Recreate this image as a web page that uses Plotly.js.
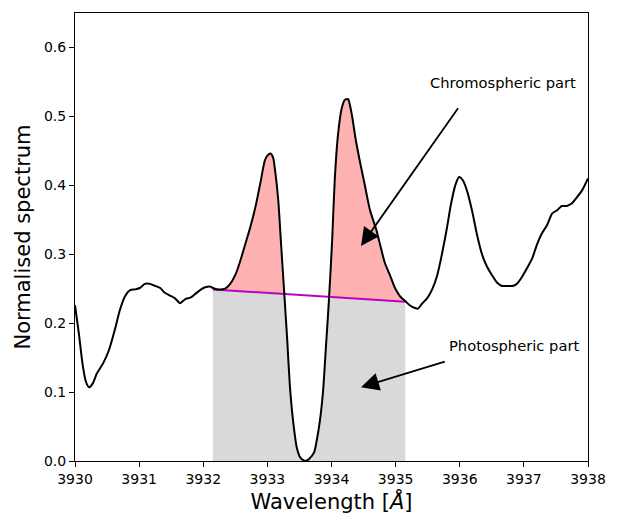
<!DOCTYPE html>
<html>
<head>
<meta charset="utf-8">
<script src="https://cdn.plot.ly/plotly-3.0.1.min.js"></script>
<style>html,body{margin:0;padding:0;background:#fff;}#chart{width:619px;height:515px;}</style>
</head>
<body>
<div id="chart"></div>
<script>
// Wavelength samples (Å)
const wavelength = [3930.00,3930.06,3930.12,3930.17,3930.22,3930.28,3930.34,3930.44,3930.53,3930.62,3930.70,3930.78,3930.86,3930.94,3931.01,3931.09,3931.17,3931.25,3931.33,3931.40,3931.48,3931.56,3931.64,3931.72,3931.80,3931.87,3931.95,3932.03,3932.11,3932.15,3932.23,3932.34,3932.42,3932.50,3932.57,3932.65,3932.73,3932.81,3932.89,3932.96,3933.00,3933.05,3933.09,3933.12,3933.17,3933.21,3933.26,3933.31,3933.35,3933.40,3933.46,3933.52,3933.59,3933.65,3933.73,3933.77,3933.82,3933.87,3933.91,3933.96,3934.01,3934.05,3934.10,3934.16,3934.21,3934.26,3934.29,3934.32,3934.38,3934.44,3934.52,3934.60,3934.70,3934.76,3934.83,3934.91,3934.99,3935.07,3935.15,3935.22,3935.30,3935.35,3935.41,3935.49,3935.57,3935.65,3935.72,3935.80,3935.86,3935.93,3935.99,3936.05,3936.11,3936.19,3936.27,3936.35,3936.42,3936.50,3936.58,3936.66,3936.74,3936.82,3936.89,3936.97,3937.05,3937.13,3937.20,3937.28,3937.36,3937.44,3937.52,3937.59,3937.67,3937.75,3937.83,3937.91,3938.00];
// Normalised flux
const flux = [0.226,0.185,0.139,0.115,0.107,0.113,0.127,0.142,0.161,0.190,0.219,0.239,0.248,0.249,0.251,0.257,0.257,0.254,0.251,0.244,0.240,0.236,0.229,0.235,0.237,0.242,0.248,0.252,0.253,0.251,0.249,0.250,0.257,0.270,0.288,0.313,0.338,0.367,0.403,0.436,0.443,0.446,0.440,0.422,0.378,0.320,0.248,0.175,0.110,0.059,0.019,0.004,0.000,0.003,0.013,0.030,0.059,0.103,0.161,0.233,0.320,0.407,0.472,0.512,0.524,0.525,0.515,0.501,0.465,0.436,0.400,0.364,0.335,0.313,0.288,0.270,0.251,0.239,0.232,0.226,0.222,0.221,0.228,0.236,0.249,0.270,0.299,0.338,0.371,0.400,0.412,0.407,0.393,0.364,0.328,0.299,0.283,0.270,0.259,0.254,0.254,0.254,0.257,0.267,0.280,0.294,0.313,0.330,0.342,0.359,0.364,0.370,0.370,0.374,0.383,0.393,0.410];
// Pseudo-continuum line end points
const contX = [3932.15, 3935.15];
const contY = [0.249, 0.231];
// Labels
const chromoLabel = "Chromospheric part";
const photoLabel = "Photospheric part";

function cont(x){ return contY[0] + (contY[1]-contY[0])*(x-contX[0])/(contX[1]-contX[0]); }

const fx = [], fLow = [], fLine = [], fHigh = [];
for (let i = 0; i < wavelength.length; i++) {
  const x = wavelength[i];
  if (x < contX[0] - 1e-9 || x > contX[1] + 1e-9) continue;
  const c = cont(x);
  fx.push(x); fLine.push(c);
  fLow.push(Math.min(flux[i], c));
  fHigh.push(Math.max(flux[i], c));
}

const traces = [
  {x: fx, y: fLow, type: 'scatter', mode: 'lines', fill: 'tozeroy', fillcolor: '#d9d9d9', line: {width: 0}, hoverinfo: 'skip', showlegend: false},
  {x: fx, y: fLine, type: 'scatter', mode: 'lines', line: {width: 0}, hoverinfo: 'skip', showlegend: false},
  {x: fx, y: fHigh, type: 'scatter', mode: 'lines', fill: 'tonexty', fillcolor: 'rgba(255,0,0,0.3)', line: {width: 0}, hoverinfo: 'skip', showlegend: false},
  {x: contX, y: contY, type: 'scatter', mode: 'lines', line: {color: '#bf00bf', width: 2}, showlegend: false},
  {x: wavelength, y: flux, type: 'scatter', mode: 'lines', line: {color: '#000000', width: 2, shape: 'spline', smoothing: 0.6}, showlegend: false}
];

const font = {family: 'DejaVu Sans, sans-serif', color: '#000'};
const layout = {
  width: 619, height: 515,
  margin: {l: 75, r: 31, t: 13, b: 54},
  paper_bgcolor: '#fff', plot_bgcolor: '#fff',
  font: {family: font.family, size: 14, color: '#000'},
  showlegend: false,
  xaxis: {
    range: [3930, 3938], dtick: 1, tick0: 3930, tickformat: 'd',
    ticks: 'outside', ticklen: 5, tickwidth: 1, tickcolor: '#000',
    showline: true, mirror: true, linecolor: '#000', linewidth: 1,
    showgrid: false, zeroline: false,
    tickfont: {family: font.family, size: 14, color: '#000'},
    title: {text: 'Wavelength [<i>Å</i>]', font: {family: font.family, size: 21, color: '#000'}, standoff: 8}
  },
  yaxis: {
    range: [0, 0.65], dtick: 0.1, tick0: 0, tickformat: '.1f',
    ticks: 'outside', ticklen: 5, tickwidth: 1, tickcolor: '#000',
    showline: true, mirror: true, linecolor: '#000', linewidth: 1,
    showgrid: false, zeroline: false,
    tickfont: {family: font.family, size: 14, color: '#000'},
    title: {text: 'Normalised spectrum', font: {family: font.family, size: 21, color: '#000'}, standoff: 7}
  },
  annotations: [
    {x: 3935.50, y: 0.549, xref: 'x', yref: 'y', text: chromoLabel, showarrow: false, xanchor: 'left', yanchor: 'middle', font: {family: font.family, size: 14.7, color: '#000'}},
    {x: 3935.80, y: 0.167, xref: 'x', yref: 'y', text: photoLabel, showarrow: false, xanchor: 'left', yanchor: 'middle', font: {family: font.family, size: 14.7, color: '#000'}},
    {x: 3934.46, y: 0.312, ax: 3935.99, ay: 0.514, xref: 'x', yref: 'y', axref: 'x', ayref: 'y', text: '', showarrow: true, arrowhead: 2, arrowsize: 2, arrowwidth: 1.8, arrowcolor: '#000'},
    {x: 3934.46, y: 0.107, ax: 3935.79, ay: 0.145, xref: 'x', yref: 'y', axref: 'x', ayref: 'y', text: '', showarrow: true, arrowhead: 2, arrowsize: 2, arrowwidth: 1.8, arrowcolor: '#000'}
  ]
};

Plotly.newPlot('chart', traces, layout, {staticPlot: true, displayModeBar: false});
</script>
</body>
</html>
